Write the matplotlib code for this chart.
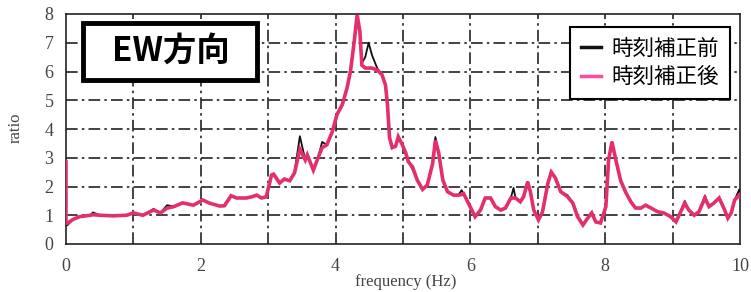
import matplotlib
matplotlib.use("Agg")
import matplotlib.pyplot as plt
from matplotlib.lines import Line2D
from matplotlib.patches import Rectangle

# frequency (Hz)
freq = [0.0, 0.0, 0.02, 0.1, 0.2, 0.36, 0.4, 0.5, 0.7, 0.9, 1.0, 1.14, 1.3, 1.4, 1.5, 1.6,
        1.73, 1.89, 2.03, 2.13, 2.28, 2.35, 2.45, 2.53, 2.68, 2.77, 2.83, 2.9, 2.97,
        3.05, 3.08, 3.17, 3.24, 3.32, 3.39, 3.47, 3.55, 3.58, 3.67, 3.74, 3.8, 3.87,
        3.95, 4.02, 4.1, 4.17, 4.22, 4.27, 4.32, 4.36, 4.39, 4.44, 4.49, 4.54, 4.62,
        4.69, 4.74, 4.77, 4.8, 4.84, 4.89, 4.93, 4.99, 5.04, 5.08, 5.14, 5.21, 5.29,
        5.36, 5.44, 5.48, 5.53, 5.59, 5.66, 5.75, 5.82, 5.87, 5.9, 5.97, 6.07, 6.15,
        6.22, 6.3, 6.37, 6.45, 6.52, 6.6, 6.64, 6.67, 6.74, 6.79, 6.85, 6.89, 6.94,
        7.01, 7.07, 7.15, 7.2, 7.26, 7.34, 7.44, 7.52, 7.59, 7.67, 7.74, 7.8, 7.86,
        7.93, 8.01, 8.05, 8.1, 8.16, 8.23, 8.31, 8.38, 8.45, 8.53, 8.6, 8.68, 8.78,
        8.87, 8.97, 9.05, 9.12, 9.18, 9.24, 9.32, 9.39, 9.48, 9.54, 9.61, 9.69, 9.76,
        9.82, 9.87, 9.92, 9.99, 10.0]

# ratio after time correction (pink)
ratio_after = [2.85, 0.75, 0.72, 0.85, 0.95, 1.0, 1.02, 1.0, 0.98, 1.0, 1.08, 1.0, 1.18, 1.08, 1.25, 1.3,
               1.43, 1.35, 1.53, 1.42, 1.32, 1.33, 1.68, 1.6, 1.6, 1.65, 1.7, 1.6, 1.64,
               2.4, 2.43, 2.12, 2.26, 2.2, 2.47, 3.3, 2.92, 3.1, 2.57, 3.0, 3.35, 3.45,
               3.9, 4.5, 4.85, 5.43, 6.0, 6.92, 7.97, 7.4, 6.22, 6.12, 6.12, 6.12, 6.05,
               5.88, 5.53, 4.83, 3.7, 3.35, 3.4, 3.73, 3.45, 3.17, 2.86, 2.69, 2.23, 1.9,
               2.05, 2.8, 3.6, 3.17, 2.23, 1.82, 1.7, 1.7, 1.72, 1.75, 1.42, 0.95, 1.18,
               1.6, 1.6, 1.3, 1.18, 1.25, 1.6, 1.6, 1.6, 1.47, 1.65, 2.16, 1.82, 1.18,
               0.84, 1.12, 2.12, 2.5, 2.3, 1.82, 1.65, 1.42, 0.95, 0.66, 0.9, 1.08, 0.77,
               0.73, 1.3, 2.92, 3.55, 2.9, 2.2, 1.77, 1.47, 1.25, 1.25, 1.35, 1.25, 1.12,
               1.08, 0.95, 0.77, 1.12, 1.42, 1.18, 1.0, 1.12, 1.6, 1.3, 1.42, 1.6, 1.25,
               0.9, 1.08, 1.53, 1.7, 1.65]

# ratio before time correction (black)
ratio_before = [0.65, 0.65, 0.65, 0.85, 0.95, 1.0, 1.1, 1.0, 0.98, 1.0, 1.08, 1.0, 1.22, 1.08, 1.35, 1.3,
                1.43, 1.35, 1.53, 1.42, 1.32, 1.33, 1.68, 1.6, 1.6, 1.65, 1.7, 1.6, 1.64,
                2.4, 2.43, 2.12, 2.26, 2.2, 2.5, 3.75, 2.92, 3.1, 2.57, 3.0, 3.55, 3.45,
                3.9, 4.5, 4.85, 5.43, 6.0, 6.92, 7.97, 7.4, 6.3, 6.5, 7.0, 6.57, 6.1,
                5.88, 5.53, 4.83, 3.7, 3.35, 3.4, 3.73, 3.45, 3.17, 2.86, 2.6, 2.23, 1.9,
                2.05, 2.8, 3.72, 3.17, 2.23, 1.82, 1.7, 1.7, 1.87, 1.75, 1.42, 0.95, 1.18,
                1.6, 1.6, 1.3, 1.18, 1.25, 1.6, 1.95, 1.6, 1.47, 1.65, 2.16, 1.82, 1.18,
                0.84, 1.12, 2.12, 2.5, 2.3, 1.82, 1.7, 1.42, 0.95, 0.66, 0.9, 1.08, 0.77,
                0.73, 1.3, 2.92, 3.55, 2.9, 2.2, 1.77, 1.47, 1.25, 1.25, 1.35, 1.25, 1.12,
                1.08, 0.95, 0.77, 1.12, 1.5, 1.18, 1.0, 1.12, 1.68, 1.3, 1.42, 1.6, 1.25,
                0.9, 1.08, 1.53, 1.9, 1.7]

x_ticks = [0, 1, 2, 3, 4, 5, 6, 7, 8, 9, 10]
x_tick_labels = ["0", "", "2", "", "4", "", "6", "", "8", "", "10"]
y_ticks = [0, 1, 2, 3, 4, 5, 6, 7, 8]
series_labels = ["時刻補正前", "時刻補正後"]
panel_title = "EW方向"

black = "#111111"
pink = "#E3306C"
legend_pink = "#FF4B9E"

W, H = 751, 292
fig = plt.figure(figsize=(W / 100, H / 100), dpi=100)
ax = fig.add_axes([66 / W, 48 / H, 674 / W, 230 / H])

grid_ls = (0, (7, 2.5, 1.5, 2.5))
for xv in x_ticks[1:-1]:
    ax.axvline(xv, color="#222222", lw=1.2, ls=grid_ls, zorder=1)
for yv in y_ticks[1:-1]:
    ax.axhline(yv, color="#222222", lw=1.2, ls=grid_ls, zorder=1)

ax.plot(freq, ratio_before, color=black, lw=1.3, zorder=3)
ax.plot(freq, ratio_after, color=pink, lw=2.6, zorder=4, solid_joinstyle="miter")

ax.set_xlim(0, 10)
ax.set_ylim(0, 8)
ax.set_xticks(x_ticks)
ax.set_xticklabels(x_tick_labels)
ax.set_yticks(y_ticks)
ax.tick_params(length=0, labelsize=13, labelcolor="#444444")
ax.tick_params(axis="x", pad=10)
ax.tick_params(axis="y", pad=9)
for lab in ax.get_xticklabels() + ax.get_yticklabels():
    lab.set_family("Liberation Serif")
for sp in ax.spines.values():
    sp.set_color("#222222")
    sp.set_linewidth(1.2)

fig.text(406 / W, 1 - 282 / H, "frequency (Hz)", family="Liberation Serif",
         fontsize=12, color="#444444", ha="center", va="center")
fig.text(16 / W, 1 - 128 / H, "ratio", family="Liberation Serif",
         fontsize=12, color="#444444", ha="center", va="center", rotation=90)

# title box
fig.patches.append(Rectangle((83 / W, 1 - 80 / H), 174 / W, 57 / H,
                             transform=fig.transFigure, fc="white", ec="black",
                             lw=3.5, zorder=9))
fig.text(171 / W, 1 - 51 / H, panel_title, ha="center", va="center",
         fontsize=24, fontweight="bold", family=["Noto Sans CJK JP", "DejaVu Sans"],
         color="black", zorder=10)

handles = [Line2D([0], [0], color=black, lw=2.5),
           Line2D([0], [0], color=legend_pink, lw=2.5)]
leg = ax.legend(handles, series_labels, loc="upper right",
                bbox_to_anchor=((730 - 66) / 674, (244 - 27) / 230),
                prop={"family": ["Noto Sans CJK JP", "DejaVu Sans"], "size": 15.5},
                frameon=True, fancybox=False, edgecolor="black",
                handlelength=0.95, handletextpad=0.5, borderpad=0.5,
                labelspacing=0.3, framealpha=1, borderaxespad=0)
leg.get_frame().set_linewidth(1.5)
leg.set_zorder(10)

fig.savefig("out.png", dpi=100)
